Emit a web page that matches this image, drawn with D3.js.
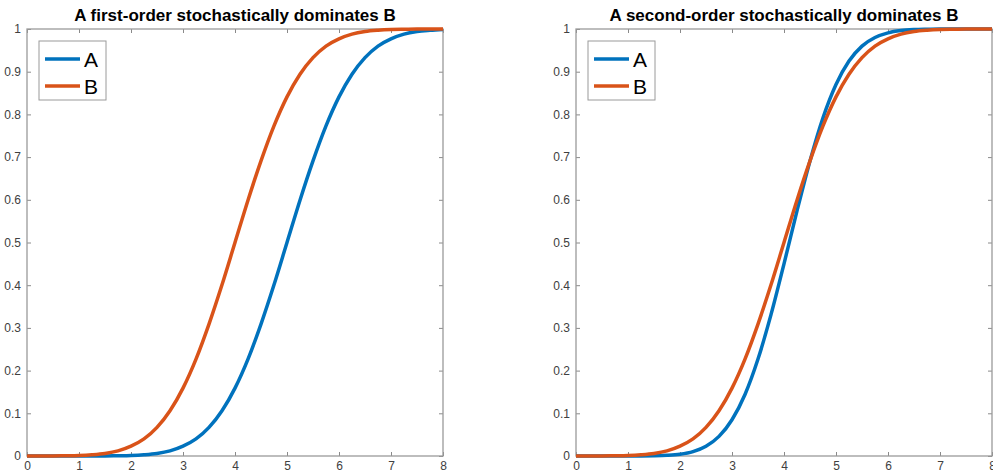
<!DOCTYPE html>
<html>
<head>
<meta charset="utf-8">
<script src="https://cdn.jsdelivr.net/npm/d3@7"></script>
<style>
    body { margin: 0; background: #fff; }
    .tick text { font-family: "Liberation Sans", Arial, sans-serif; font-size: 12px; fill: #404040; }
    .tick line { stroke: #8a8a8a; }
    .chartTitle { font-family: "Liberation Sans", Arial, sans-serif; font-size: 17px; font-weight: bold; fill: #000; }
    .legendText { font-family: "Liberation Sans", Arial, sans-serif; font-size: 21px; fill: #000; }
</style>
</head>
<body>
<div id="chart"></div>
<script>
// x positions where the curves were read
var xValues = [0, 0.25, 0.5, 0.75, 1, 1.25, 1.5, 1.75, 2, 2.25, 2.5, 2.75, 3, 3.25, 3.5, 3.75,
    4, 4.25, 4.5, 4.75, 5, 5.25, 5.5, 5.75, 6, 6.25, 6.5, 6.75, 7, 7.25, 7.5, 7.75, 8];

// left panel
var firstA = [0, 0, 0, 0, 0, 0.0001, 0.0002, 0.0006, 0.0013, 0.003, 0.006, 0.012, 0.023, 0.040, 0.067, 0.106,
    0.159, 0.227, 0.309, 0.401, 0.5, 0.599, 0.691, 0.773, 0.841, 0.894, 0.933, 0.960, 0.977, 0.988, 0.994, 0.997, 0.999];
var firstB = [0, 0.0001, 0.0002, 0.0006, 0.0013, 0.003, 0.006, 0.012, 0.023, 0.040, 0.067, 0.106, 0.159, 0.227, 0.309, 0.401,
    0.5, 0.599, 0.691, 0.773, 0.841, 0.894, 0.933, 0.960, 0.977, 0.988, 0.994, 0.997, 0.9987, 0.9994, 0.9998, 0.9999, 1];

// right panel
var secondA = [0, 0, 0, 0, 0.0001, 0.0002, 0.0006, 0.0017, 0.0043, 0.0104, 0.023, 0.046, 0.085, 0.144, 0.227, 0.331,
    0.450, 0.574, 0.691, 0.792, 0.870, 0.925, 0.960, 0.980, 0.991, 0.9964, 0.9987, 0.9995, 0.9999, 1, 1, 1, 1];
var secondB = firstB;

var xTicks = [0, 1, 2, 3, 4, 5, 6, 7, 8];
var yTicks = [0, 0.1, 0.2, 0.3, 0.4, 0.5, 0.6, 0.7, 0.8, 0.9, 1];

var colorA = "#0072BD";
var colorB = "#D95319";

var svgWidth = 993;
var svgHeight = 475;

var svg = d3.select("#chart")
    .append("svg")
    .attr("width", svgWidth)
    .attr("height", svgHeight);

makePanel("A first-order stochastically dominates B", firstA, firstB, 27, 443);
makePanel("A second-order stochastically dominates B", secondA, secondB, 576, 992);

function makePanel(title, seriesA, seriesB, left, right) {

    var top = 29;
    var bottom = 456;
    var chartWidth = right - left;
    var chartHeight = bottom - top;

    var chartGroup = svg.append("g")
        .attr("transform", `translate(${left}, ${top})`);

    var xScale = d3.scaleLinear().domain([0, 8]).range([0, chartWidth]);
    var yScale = d3.scaleLinear().domain([0, 1]).range([chartHeight, 0]);

    // Axes with inward ticks
    chartGroup.append("g")
        .attr("transform", `translate(0, ${chartHeight})`)
        .call(d3.axisBottom(xScale).tickValues(xTicks).tickFormat(d3.format("d"))
            .tickSizeInner(-4).tickSizeOuter(0).tickPadding(5))
        .call(g => g.select(".domain").remove());

    chartGroup.append("g")
        .call(d3.axisLeft(yScale).tickValues(yTicks).tickFormat(d => d === 0 || d === 1 ? d : d3.format(".1f")(d))
            .tickSizeInner(-4).tickSizeOuter(0).tickPadding(6))
        .call(g => g.select(".domain").remove());

    chartGroup.append("g")
        .call(d3.axisTop(xScale).tickValues(xTicks).tickFormat("").tickSizeInner(-4).tickSizeOuter(0))
        .call(g => g.select(".domain").remove());

    chartGroup.append("g")
        .attr("transform", `translate(${chartWidth}, 0)`)
        .call(d3.axisRight(yScale).tickValues(yTicks).tickFormat("").tickSizeInner(-4).tickSizeOuter(0))
        .call(g => g.select(".domain").remove());

    // Box
    chartGroup.append("rect")
        .attr("width", chartWidth)
        .attr("height", chartHeight)
        .attr("fill", "none")
        .attr("stroke", "#9a9a9a")
        .attr("stroke-width", 1.3);

    // Curves
    var line = d3.line()
        .x((d, i) => xScale(xValues[i]))
        .y(d => yScale(d))
        .curve(d3.curveMonotoneX);

    chartGroup.append("path")
        .attr("d", line(seriesA))
        .attr("fill", "none")
        .attr("stroke", colorA)
        .attr("stroke-width", 3.5);

    chartGroup.append("path")
        .attr("d", line(seriesB))
        .attr("fill", "none")
        .attr("stroke", colorB)
        .attr("stroke-width", 3.5);

    // Title
    chartGroup.append("text")
        .attr("class", "chartTitle")
        .attr("text-anchor", "middle")
        .attr("x", chartWidth / 2)
        .attr("y", -8)
        .text(title);

    // Legend
    var legend = chartGroup.append("g")
        .attr("transform", "translate(12, 12)");

    legend.append("rect")
        .attr("width", 67)
        .attr("height", 59)
        .attr("fill", "#fff")
        .attr("stroke", "#9a9a9a")
        .attr("stroke-width", 1);

    [["A", colorA], ["B", colorB]].forEach(function(item, i) {
        var y = 18 + i * 27;
        legend.append("line")
            .attr("x1", 6).attr("x2", 41)
            .attr("y1", y).attr("y2", y)
            .attr("stroke", item[1])
            .attr("stroke-width", 3.5);
        legend.append("text")
            .attr("class", "legendText")
            .attr("x", 45)
            .attr("y", y + 8)
            .text(item[0]);
    });
}
</script>
</body>
</html>
